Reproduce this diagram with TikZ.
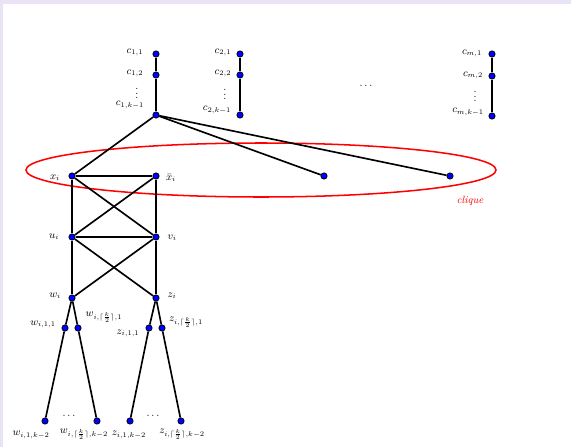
\documentclass[tikz,border=0pt]{standalone}
\definecolor{pagebg}{RGB}{234,226,245}
\tikzstyle{vert} = [circle, draw=black, fill=blue, line width=0.6pt, minimum size=0.19cm, inner sep=0pt]
\tikzstyle{lbl} = [inner sep=0pt, font=\small]
\tikzstyle{edge} = [line width=1.4pt]

\begin{document}
\begin{tikzpicture}[x=0.03cm,y=-0.03cm]
%pagina
\fill[pagebg] (0,0) rectangle (571,447);
\fill[white] (3,4) rectangle (571,447);
\useasboundingbox (0,0) rectangle (571,447);
%clique
\draw[red, line width=1.3pt] (261,170) ellipse [x radius=235, y radius=27];
\node[lbl, red] (lclique) at (470,201) {\textit{clique}};
%begin clause-1
\node[vert] (c11) at (156,54) {};
\node[vert] (c12) at (156,75) {};
\node[vert] (c1k) at (156,115) {};
\node[lbl] (lc11) at (135,52) {$c_{1,1}$};
\node[lbl] (lc12) at (135,73) {$c_{1,2}$};
\node[lbl] (vd1) at (137,90) {$\vdots$};
\node[lbl] (lc1k) at (130,105) {$c_{1,k-1}$};
\draw[edge] (c11) -- (c12) -- (c1k);
%end clause-1
%begin clause-2
\node[vert] (c21) at (240,54) {};
\node[vert] (c22) at (240,75) {};
\node[vert] (c2k) at (240,115) {};
\node[lbl] (lc21) at (223,52) {$c_{2,1}$};
\node[lbl] (lc22) at (223,73) {$c_{2,2}$};
\node[lbl] (vd2) at (225,91) {$\vdots$};
\node[lbl] (lc2k) at (217,110) {$c_{2,k-1}$};
\draw[edge] (c21) -- (c22) -- (c2k);
%end clause-2
\node[lbl] (hd) at (366,86) {$\cdots$};
%begin clause-m
\node[vert] (cm1) at (492,54) {};
\node[vert] (cm2) at (492,76) {};
\node[vert] (cmk) at (492,116) {};
\node[lbl] (lcm1) at (472,53) {$c_{m,1}$};
\node[lbl] (lcm2) at (473,75) {$c_{m,2}$};
\node[lbl] (vdm) at (475,93) {$\vdots$};
\node[lbl] (lcmk) at (468,112) {$c_{m,k-1}$};
\draw[edge] (cm1) -- (cm2) -- (cmk);
%end clause-m
%begin gadget
\node[vert] (x) at (72,176) {};
\node[vert] (xb) at (156,176) {};
\node[vert] (y1) at (324,176) {};
\node[vert] (y2) at (450,176) {};
\node[vert] (u) at (72,237) {};
\node[vert] (v) at (156,237) {};
\node[vert] (w) at (72,298) {};
\node[vert] (z) at (156,298) {};
\node[lbl] (lx) at (55,178) {$x_i$};
\node[lbl] (lxb) at (171,178) {$\bar{x}_i$};
\node[lbl] (lu) at (54,237) {$u_i$};
\node[lbl] (lv) at (172,238) {$v_i$};
\node[lbl] (lw) at (55,296) {$w_i$};
\node[lbl] (lz) at (172,296) {$z_i$};
\draw[edge] (c1k) -- (x);
\draw[edge] (c1k) -- (y1);
\draw[edge] (c1k) -- (y2);
\draw[edge] (x) -- (xb) -- (v) -- (u) -- (x);
\draw[edge] (x) -- (v);
\draw[edge] (xb) -- (u);
\draw[edge] (u) -- (w);
\draw[edge] (v) -- (z);
\draw[edge] (u) -- (z);
\draw[edge] (v) -- (w);
%end gadget
%begin paden
\node[vert] (w11) at (65,328) {};
\node[vert] (wh1) at (78,328) {};
\node[vert] (z11) at (149,328) {};
\node[vert] (zh1) at (162,328) {};
\node[vert] (w1k) at (45,421) {};
\node[vert] (whk) at (97,421) {};
\node[vert] (z1k) at (130,421) {};
\node[vert] (zhk) at (181,421) {};
\node[lbl] (lw11) at (43,324) {$w_{i,1,1}$};
\node[lbl] (lwh1) at (104,317) {$w_{i,\lceil\frac{k}{2}\rceil,1}$};
\node[lbl] (lz11) at (128,333) {$z_{i,1,1}$};
\node[lbl] (lzh1) at (186,322) {$z_{i,\lceil\frac{k}{2}\rceil,1}$};
\node[lbl] (lw1k) at (31,435) {$w_{i,1,k-2}$};
\node[lbl] (lwhk) at (84,434) {$w_{i,\lceil\frac{k}{2}\rceil,k-2}$};
\node[lbl] (lz1k) at (129,435) {$z_{i,1,k-2}$};
\node[lbl] (lzhk) at (182,434) {$z_{i,\lceil\frac{k}{2}\rceil,k-2}$};
\node[lbl] (wd) at (69,416) {$\cdots$};
\node[lbl] (zd) at (153,416) {$\cdots$};
\draw[edge] (w) -- (w11) -- (w1k);
\draw[edge] (w) -- (wh1) -- (whk);
\draw[edge] (z) -- (z11) -- (z1k);
\draw[edge] (z) -- (zh1) -- (zhk);
%end paden
\end{tikzpicture}
\end{document}
